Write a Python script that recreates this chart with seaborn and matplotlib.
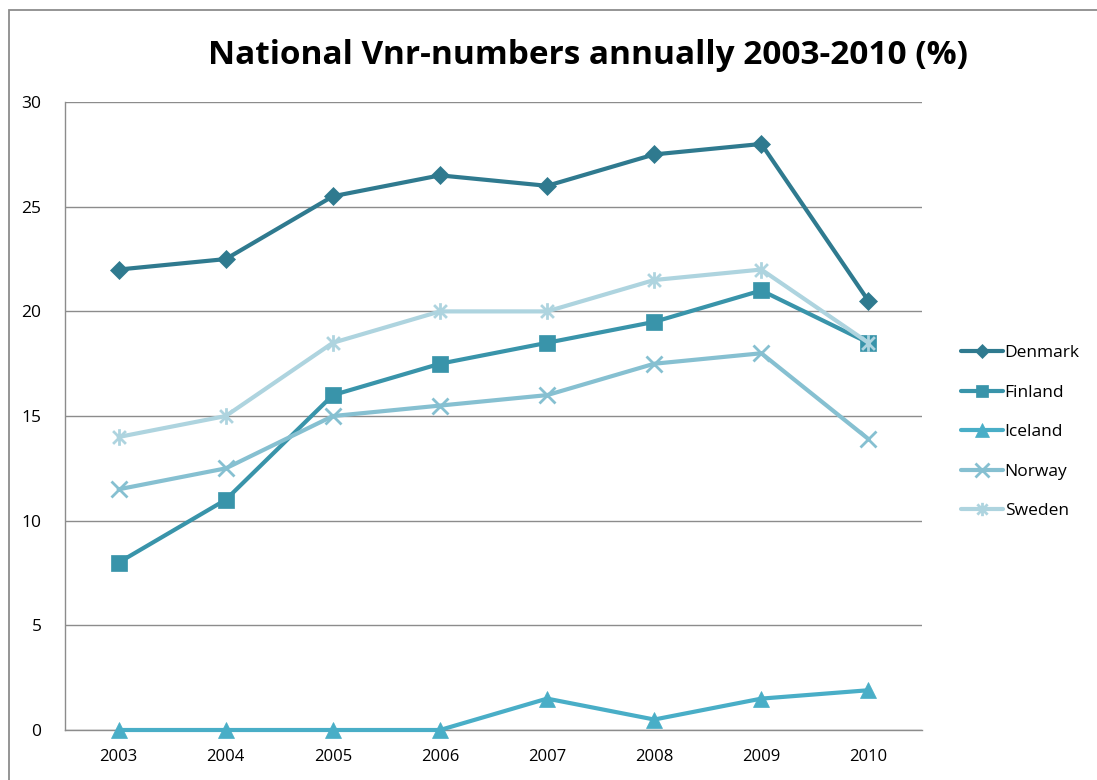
import pandas as pd
import matplotlib.pyplot as plt
import seaborn as sns
from matplotlib.patches import Rectangle
from matplotlib.path import Path

# Chart values
years = ['2003', '2004', '2005', '2006', '2007', '2008', '2009', '2010']
denmark = [22, 22.5, 25.5, 26.5, 26, 27.5, 28, 20.5]
finland = [8, 11, 16, 17.5, 18.5, 19.5, 21, 18.5]
iceland = [0, 0, 0, 0, 1.5, 0.5, 1.5, 1.9]
norway = [11.5, 12.5, 15, 15.5, 16, 17.5, 18, 13.9]
sweden = [14, 15, 18.5, 20, 20, 21.5, 22, 18.5]

countries = ['Denmark', 'Finland', 'Iceland', 'Norway', 'Sweden']
series = [denmark, finland, iceland, norway, sweden]

# Long format for seaborn
rows = []
for name, vals in zip(countries, series):
    for i, v in enumerate(vals):
        rows.append({'pos': i, 'year': years[i], 'value': v, 'country': name})
df = pd.DataFrame(rows)

# Excel style asterisk: an x with a vertical bar
star = Path([(-1, -1), (1, 1), (-1, 1), (1, -1), (0, -1.3), (0, 1.3)],
            [Path.MOVETO, Path.LINETO, Path.MOVETO, Path.LINETO, Path.MOVETO, Path.LINETO])

palette = {'Denmark': '#2f7a8f', 'Finland': '#3994aa', 'Iceland': '#49aec7',
           'Norway': '#86c0d1', 'Sweden': '#aed4df'}
markers = {'Denmark': 'D', 'Finland': 's', 'Iceland': '^',
           'Norway': 'x', 'Sweden': star}
msizes = {'Denmark': 9, 'Finland': 11.5, 'Iceland': 12, 'Norway': 12, 'Sweden': 12}

sns.set_style('white')
plt.rcParams['font.family'] = ['Open Sans', 'DejaVu Sans']
plt.rcParams['text.color'] = 'black'
plt.rcParams['xtick.color'] = 'black'
plt.rcParams['ytick.color'] = 'black'

fig = plt.figure(figsize=(10.97, 7.8), dpi=100)
ax = fig.add_axes([0.0593, 0.0641, 0.7812, 0.805])

# frame around the chart area
fig.patches.append(Rectangle((9 / 1097, -0.01), 1.1, 1 - 10 / 780 + 0.01,
                             transform=fig.transFigure, fill=False,
                             edgecolor='#8c8c8c', linewidth=1.3, zorder=0))

for name in countries:
    sub = df[df['country'] == name]
    sns.lineplot(data=sub, x='pos', y='value', ax=ax, color=palette[name],
                 linewidth=3.0, marker=markers[name], markersize=msizes[name],
                 markeredgecolor=palette[name],
                 markeredgewidth=2.0 if name in ('Norway', 'Sweden') else 0.5,
                 label=name, legend=False, zorder=3, clip_on=False)

ax.set_xlim(-0.5, 7.5)
ax.set_ylim(0, 30)
ax.set_yticks(range(0, 31, 5))
ax.set_xticks(range(len(years)))
ax.set_xticklabels(years)
ax.set_xticks([i - 0.5 for i in range(len(years) + 1)], minor=True)
ax.tick_params(axis='x', which='major', length=0, pad=14, labelsize=12)
ax.tick_params(axis='x', which='minor', length=7, color='#8c8c8c', width=1, direction='out')
ax.tick_params(axis='y', length=7, color='#8c8c8c', width=1, direction='out',
               labelsize=12.5, pad=10)
ax.yaxis.grid(True, color='#8c8c8c', linewidth=1)
ax.set_axisbelow(True)
ax.set_xlabel('')
ax.set_ylabel('')
for side in ['top', 'right']:
    ax.spines[side].set_visible(False)
for side in ['left', 'bottom']:
    ax.spines[side].set_color('#8c8c8c')
    ax.spines[side].set_linewidth(1)

fig.text(0.536, 0.929, 'National Vnr-numbers annually 2003-2010 (%)',
         ha='center', va='center', fontsize=24, fontweight='bold', color='black')

handles, labels = ax.get_legend_handles_labels()
fig.legend(handles, labels, loc='center left', bbox_to_anchor=(0.862, 0.446),
           frameon=False, fontsize=12.5, handlelength=2.4, handletextpad=0.1,
           labelspacing=1.35, markerscale=0.8)

fig.savefig('out.png', dpi=100)
